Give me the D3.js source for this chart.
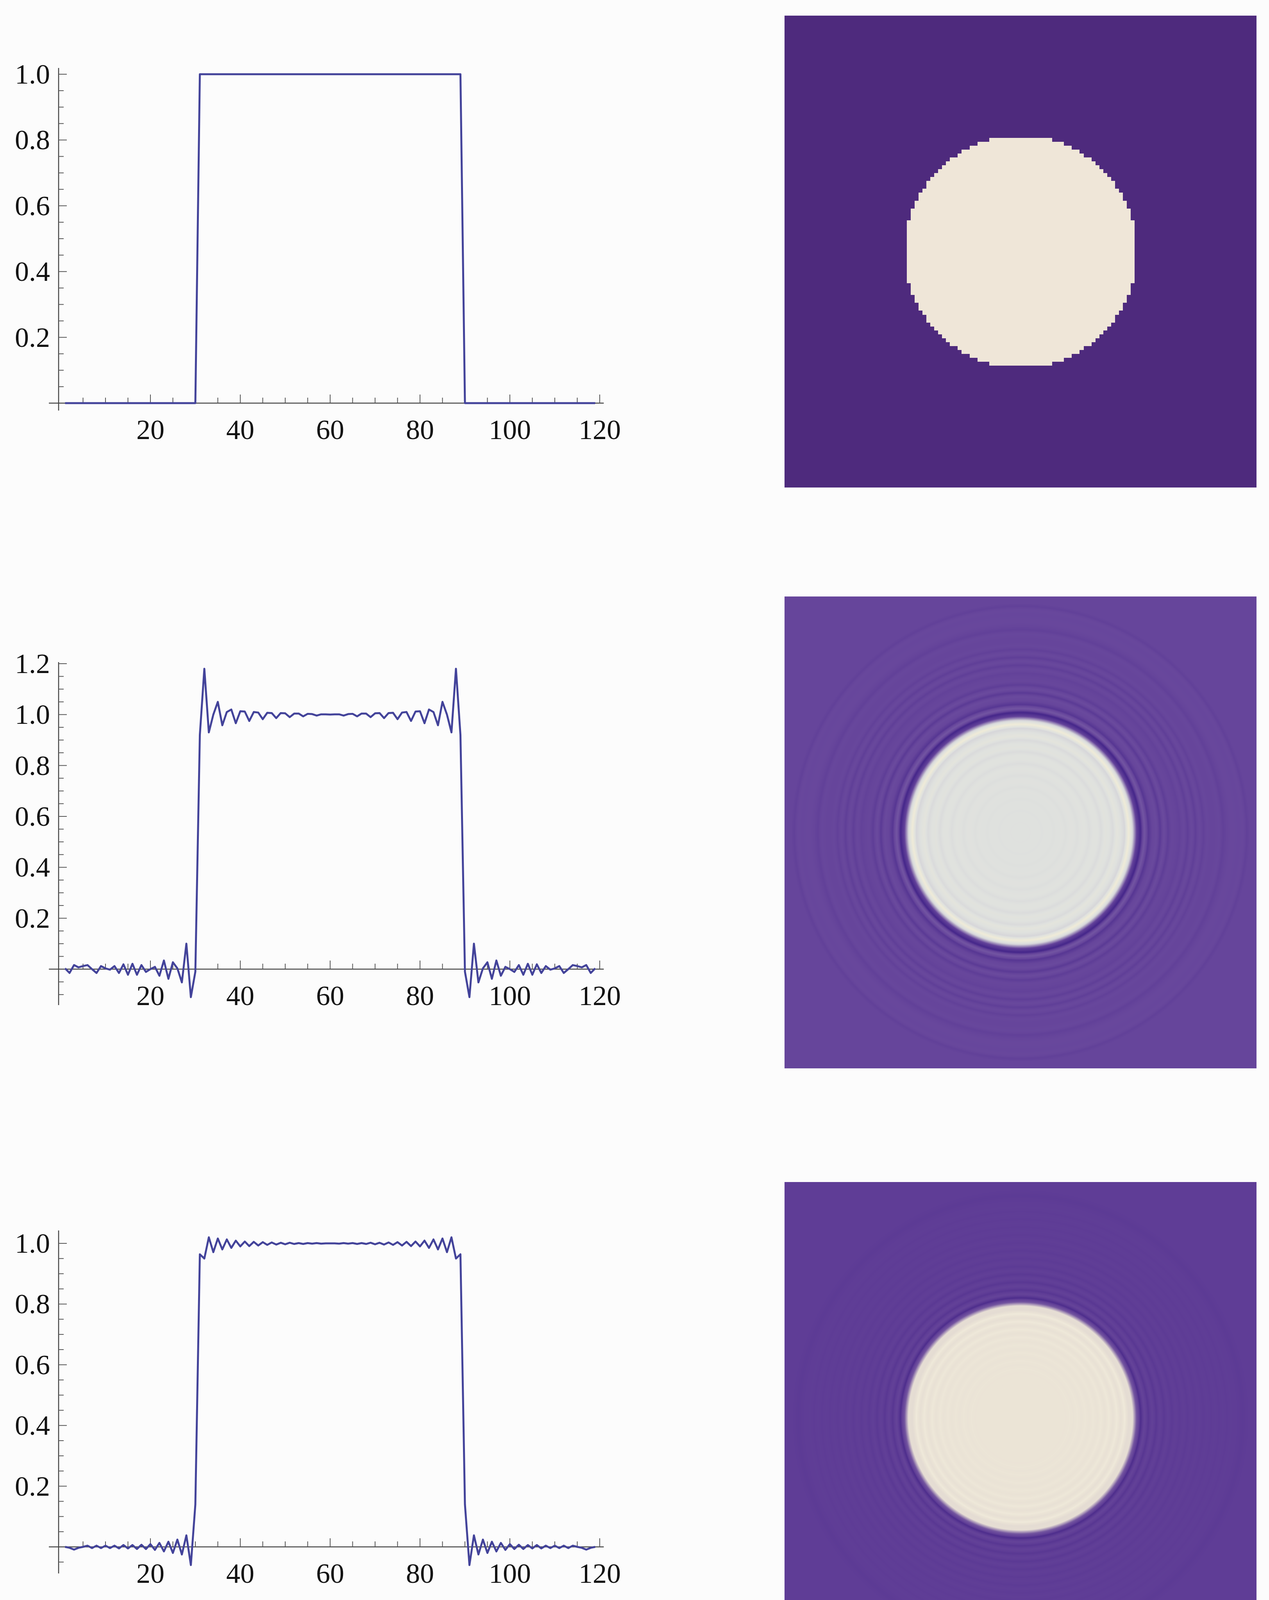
<!DOCTYPE html>
<html><head><meta charset="utf-8">
<script src="https://cdn.jsdelivr.net/npm/d3@7"></script>
<style>html,body{margin:0;padding:0;background:#fcfcfc;}</style>
</head><body>
<script>
// ---- data ----
const xIndex = d3.range(1, 120); // 1..119
const profileSharp = [0,0,0,0,0,0,0,0,0,0,0,0,0,0,0,0,0,0,0,0,0,0,0,0,0,0,0,0,0,0,
 1,1,1,1,1,1,1,1,1,1,1,1,1,1,1,1,1,1,1,1,1,1,1,1,1,1,1,1,1,1,
 1,1,1,1,1,1,1,1,1,1,1,1,1,1,1,1,1,1,1,1,1,1,1,1,1,1,1,1,1,0,
 0,0,0,0,0,0,0,0,0,0,0,0,0,0,0,0,0,0,0,0,0,0,0,0,0,0,0,0,0];
const profileTruncated = [0.003,-0.015,0.016,0.007,0.012,0.016,0.0,-0.015,0.012,0.003,-0.002,0.012,-0.015,0.019,-0.022,0.021,-0.022,0.016,-0.011,0.0,0.009,-0.026,0.034,-0.038,0.027,0.003,-0.052,0.10,-0.11,-0.01,
 0.92,1.18,0.93,1.0,1.05,0.958,1.01,1.02,0.966,1.013,1.012,0.975,1.01,1.008,0.982,1.007,1.006,0.986,1.006,1.005,0.99,1.004,1.004,0.993,1.003,1.002,0.996,1.001,1.001,1.0,
 1.001,1.001,0.996,1.002,1.003,0.993,1.004,1.004,0.99,1.005,1.006,0.986,1.006,1.007,0.982,1.008,1.01,0.975,1.012,1.013,0.966,1.02,1.01,0.958,1.05,1.0,0.93,1.18,0.92,-0.01,
 -0.11,0.10,-0.052,0.003,0.027,-0.038,0.034,-0.026,0.009,0.0,-0.011,0.016,-0.022,0.021,-0.022,0.019,-0.015,0.012,-0.002,0.003,0.012,-0.015,0.0,0.016,0.012,0.007,0.016,-0.015,0.003];
const profileFiltered = [0.0,-0.003,-0.009,-0.003,0.0,0.004,-0.004,0.004,-0.004,0.004,-0.004,0.004,-0.005,0.006,-0.005,0.006,-0.007,0.007,-0.007,0.009,-0.01,0.013,-0.015,0.017,-0.02,0.024,-0.025,0.038,-0.06,0.14,
 0.964,0.95,1.02,0.971,1.016,0.98,1.013,0.985,1.009,0.99,1.006,0.991,1.005,0.993,1.004,0.995,1.003,0.996,1.002,0.997,1.002,0.998,1.001,0.998,1.001,0.999,1.001,0.999,1.0,1.0,
 1.0,0.999,1.001,0.999,1.001,0.998,1.001,0.998,1.002,0.997,1.002,0.996,1.003,0.995,1.004,0.993,1.005,0.991,1.006,0.99,1.009,0.985,1.013,0.98,1.016,0.971,1.02,0.95,0.964,0.14,
 -0.06,0.038,-0.025,0.024,-0.02,0.017,-0.015,0.013,-0.01,0.009,-0.007,0.007,-0.007,0.006,-0.005,0.006,-0.005,0.004,-0.004,0.004,-0.004,0.004,-0.004,0.004,0.0,-0.003,-0.009,-0.003,0.0];
const xTickLabels = [20,40,60,80,100,120];
const yTickLabels1 = [0.2,0.4,0.6,0.8,1.0];
const yTickLabels2 = [0.2,0.4,0.6,0.8,1.0,1.2];
const yTickLabels3 = [0.2,0.4,0.6,0.8,1.0];

// ---- layout ----
const W = 3248, H = 4247;
const svg = d3.select("body").append("svg").attr("width", W).attr("height", H)
  .style("display","block").style("background","#fcfcfc");

const panels = [
  {data: profileSharp, yDom:[0,1], yRange:[1032,190], axisY:[1051,174], yTicks:yTickLabels1, top:40,
   cdom:[0,1], crange:["#4e2a7d","#efe6d8"], pixel:true},
  {data: profileTruncated, yDom:[0,1.2], yRange:[2481,1699], axisY:[2573,1695], yTicks:yTickLabels2, top:1527,
   cdom:[-0.11,0,1,1.18], crange:["#45268a","#66459b","#dfe1de","#efebd8"], pixel:false},
  {data: profileFiltered, yDom:[0,1], yRange:[3960,3183], axisY:[4028,3150], yTicks:yTickLabels3, top:3026,
   cdom:[-0.06,0,1,1.02], crange:["#4d2d8c","#5f3d96","#ebe4d6","#efe9da"], pixel:false}
];

const x = d3.scaleLinear().domain([0,120]).range([155,1535]);
const font = "'Liberation Serif','DejaVu Serif',serif";

panels.forEach(p => {
  const y = d3.scaleLinear().domain(p.yDom).range(p.yRange);
  const g = svg.append("g");
  const y0 = y(0);
  g.append("line").attr("x1", x(-2.6)).attr("x2", x(120.9)).attr("y1", y0).attr("y2", y0)
    .attr("stroke","#444").attr("stroke-width",2.5);
  g.append("line").attr("x1", 150).attr("x2", 150).attr("y1", p.axisY[0]).attr("y2", p.axisY[1])
    .attr("stroke","#444").attr("stroke-width",2.5);
  d3.range(5,121,5).forEach(t => {
    const major = t % 20 === 0;
    g.append("line").attr("x1", x(t)).attr("x2", x(t)).attr("y1", y0).attr("y2", y0 - (major?22:14))
      .attr("stroke","#555").attr("stroke-width",2);
  });
  xTickLabels.forEach(t => {
    g.append("text").attr("x", x(t)).attr("y", y0 + 92).attr("text-anchor","middle")
      .attr("font-family", font).attr("font-size", 72).attr("fill","#111").text(t);
  });
  const ymin = y.invert(p.axisY[0]), ymax = y.invert(p.axisY[1]);
  for (let k = Math.ceil(ymin/0.05); k*0.05 <= ymax + 1e-9; k++) {
    const v = k*0.05;
    if (Math.abs(v) < 1e-9) continue;
    const major = Math.abs(Math.round(v/0.2)*0.2 - v) < 1e-6;
    g.append("line").attr("x1",150).attr("x2",150 + (major?21:13)).attr("y1", y(v)).attr("y2", y(v))
      .attr("stroke","#555").attr("stroke-width",2);
  }
  p.yTicks.forEach(t => {
    g.append("text").attr("x", 128).attr("y", y(t) + 24).attr("text-anchor","end")
      .attr("font-family", font).attr("font-size", 72).attr("fill","#111").text(t.toFixed(1));
  });
  const line = d3.line().x((d,i) => x(xIndex[i])).y(d => y(d));
  g.append("path").datum(p.data).attr("d", line).attr("fill","none")
    .attr("stroke","#43439a").attr("stroke-width",5).attr("stroke-linejoin","round");

  // heatmap image (radial rendering of the profile)
  const S = 1208, left = 2008;
  const color = d3.scaleLinear().domain(p.cdom).range(p.crange).clamp(true);
  const prof = pos => {
    const q = Math.max(1, Math.min(119, pos));
    const i0 = Math.floor(q), i1 = Math.min(119, i0 + 1), f = q - i0;
    return p.data[i0-1]*(1-f) + p.data[i1-1]*f;
  };
  const cv = document.createElement("canvas");
  cv.width = S; cv.height = S;
  const ctx = cv.getContext("2d");
  const img = ctx.createImageData(S, S);
  const u = S/120;
  const cache = new Map();
  for (let py = 0; py < S; py++) {
    for (let px = 0; px < S; px++) {
      let dx, dy;
      if (p.pixel) {
        dx = Math.floor(px/u) + 0.5 - 60; dy = Math.floor(py/u) + 0.5 - 60;
      } else {
        dx = (px + 0.5)/u - 60; dy = (py + 0.5)/u - 60;
      }
      const r = Math.sqrt(dx*dx + dy*dy);
      let v;
      if (p.pixel) v = p.data[Math.min(118, Math.round(60 + r) - 1)];
      else v = prof(60.5 + r);
      const key = Math.round(v*2000);
      let c = cache.get(key);
      if (!c) { c = d3.rgb(color(key/2000)); cache.set(key, c); }
      const o = (py*S + px)*4;
      img.data[o] = c.r; img.data[o+1] = c.g; img.data[o+2] = c.b; img.data[o+3] = 255;
    }
  }
  ctx.putImageData(img, 0, 0);
  svg.append("image").attr("x", left).attr("y", p.top).attr("width", S).attr("height", S)
    .attr("href", cv.toDataURL());
});
</script>
</body></html>
